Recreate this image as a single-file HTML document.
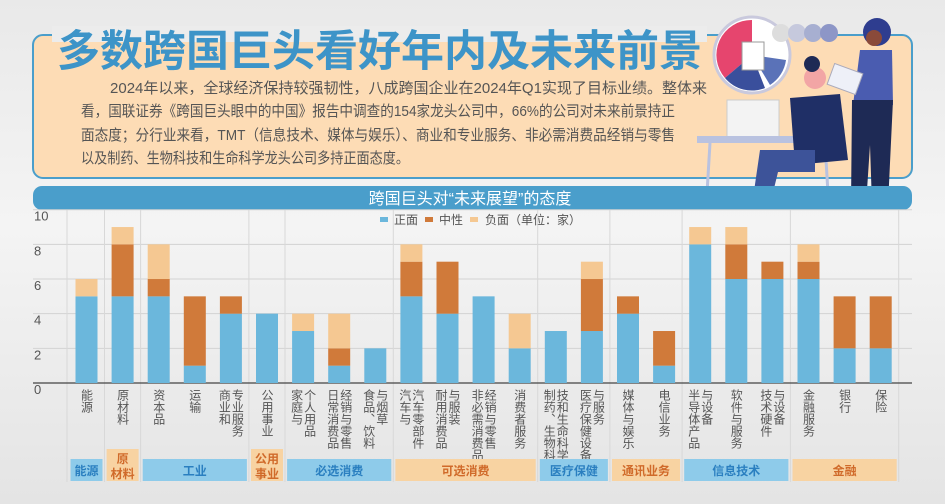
<!DOCTYPE html>
<html><head><meta charset="utf-8"><style>
html,body{margin:0;padding:0;width:945px;height:504px;overflow:hidden;background:#ececec;}
svg{display:block;font-family:"Liberation Sans","Noto Sans CJK SC",sans-serif;}
</style></head><body>
<svg id="chart" width="945" height="504" viewBox="0 0 945 504" xmlns="http://www.w3.org/2000/svg">
<defs>
<linearGradient id="bg" x1="0" y1="0" x2="0" y2="1"><stop offset="0" stop-color="#e9e9e9"/><stop offset="0.45" stop-color="#f4f4f4"/><stop offset="1" stop-color="#e4e4e4"/></linearGradient>
</defs>
<rect x="0" y="0" width="945" height="504" fill="url(#bg)"/>
<rect x="33" y="35" width="879" height="143" rx="10" fill="#fddcb5" stroke="#4a9ecb" stroke-width="2"/>
<rect x="52" y="26" width="655" height="16" fill="#ececec"/>
<g>
<circle cx="752" cy="55" r="38" fill="#fff" stroke="#c9c9dd" stroke-width="3"/>
<path d="M752 55 L752 20 A35 35 0 0 0 725 78 Z" fill="#e6456e"/>
<path d="M752 55 L725 78 A35 35 0 0 0 765 88 Z" fill="#3a4f9c"/>
<path d="M752 55 L770 85 A35 35 0 0 0 786 60 Z" fill="#5a72b8"/>
<rect x="742" y="42" width="22" height="28" fill="#fff" stroke="#999"/>
<circle cx="781" cy="33" r="9" fill="#ddd"/><circle cx="797" cy="33" r="9" fill="#c6c9dd"/><circle cx="813" cy="33" r="9" fill="#a7afd1"/><circle cx="829" cy="33" r="9" fill="#8d96c7"/>
<rect x="727" y="100" width="52" height="37" fill="#f3f3f3" stroke="#ccc"/>
<rect x="697" y="136" width="140" height="7" fill="#b9c2e0"/>
<line x1="710" y1="143" x2="706" y2="210" stroke="#b9c2e0" stroke-width="3"/>
<line x1="825" y1="143" x2="829" y2="210" stroke="#b9c2e0" stroke-width="3"/>
<circle cx="815" cy="78" r="11" fill="#f2a5a5"/>
<circle cx="812" cy="64" r="8" fill="#1e2a55"/>
<path d="M790 98 L840 94 L848 160 L795 165 Z" fill="#1f2f66"/>
<path d="M760 150 L815 150 L815 172 L778 172 L770 205 L752 205 Z" fill="#3d5399"/>
<circle cx="877" cy="32" r="14" fill="#2e3d8f"/>
<circle cx="874" cy="38" r="8" fill="#8a4a3a"/>
<path d="M860 50 L892 50 L893 105 L853 105 Z" fill="#4a5cb0"/>
<path d="M852 100 L893 100 L888 205 L872 205 L870 145 L866 205 L851 205 Z" fill="#1e2a55"/>
<rect x="830" y="68" width="30" height="22" fill="#eef0f8" stroke="#aab" transform="rotate(20 845 79)"/>
</g>
<text x="57" y="66" font-size="43" font-weight="bold" fill="#3d94c8">多数跨国巨头看好年内及未来前景</text>
<g font-size="15" fill="#555">
<text x="110" y="93" textLength="597" lengthAdjust="spacingAndGlyphs">2024年以来，全球经济保持较强韧性，八成跨国企业在2024年Q1实现了目标业绩。整体来</text>
<text x="81" y="116" textLength="594" lengthAdjust="spacingAndGlyphs">看，国联证券《跨国巨头眼中的中国》报告中调查的154家龙头公司中，66%的公司对未来前景持正</text>
<text x="81" y="140" textLength="594" lengthAdjust="spacingAndGlyphs">面态度；分行业来看，TMT（信息技术、媒体与娱乐）、商业和专业服务、非必需消费品经销与零售</text>
<text x="81" y="163" textLength="328" lengthAdjust="spacingAndGlyphs">以及制药、生物科技和生命科学龙头公司多持正面态度。</text>
</g>
<rect x="33" y="186" width="879" height="24" rx="9" fill="#4a9ecb"/>
<text x="470" y="204" font-size="16" fill="#fff" text-anchor="middle">跨国巨头对“未来展望”的态度</text>
<g font-size="12" fill="#555">
<rect x="380" y="217" width="8" height="5" fill="#6bb7dc"/>
<text x="394" y="224">正面</text>
<rect x="425" y="217" width="8" height="5" fill="#d07a3a"/>
<text x="439" y="224">中性</text>
<rect x="470" y="217" width="8" height="5" fill="#f5c892"/>
<text x="485" y="224">负面（单位：家）</text>
</g>
<g id="grid"></g>
<g id="bars"></g>
<g id="xlabels"></g>
<g id="groups"></g>
</svg>
<script>
const categories=["能源","原材料","资本品","运输","商业和|专业服务","公用事业","家庭与|个人用品","日常消费品|经销与零售","食品、饮料|与烟草","汽车与|汽车零部件","耐用消费品|与服装","非必需消费品|经销与零售","消费者服务","制药、生物科|技和生命科学","医疗保健设备|与服务","媒体与娱乐","电信业务","半导体产品|与设备","软件与服务","技术硬件|与设备","金融服务","银行","保险"];
const positive=[5,5,5,1,4,4,3,1,2,5,4,5,2,3,3,4,1,8,6,6,6,2,2];
const neutral=[0,3,1,4,1,0,0,1,0,2,3,0,0,0,3,1,2,0,2,1,1,3,3];
const negative=[1,1,2,0,0,0,1,2,0,1,0,0,2,0,1,0,0,1,1,0,1,0,0];
const yTicks=[0,2,4,6,8,10];
const groupNames=["能源","原材料","工业","公用事业","必选消费","可选消费","医疗保健","通讯业务","信息技术","金融"];
const groupStart=[0,1,2,5,6,9,13,15,17,20];
const groupEnd=[0,1,4,5,8,12,14,16,19,22];
const NS="http://www.w3.org/2000/svg";
const y0=383, unit=17.33, x0=86.5, step=36.1, bw=22;
const yS=v=>y0-v*unit;
const xS=i=>x0+i*step;
function mk(tag,attrs,parent){const e=document.createElementNS(NS,tag);for(const k in attrs)e.setAttribute(k,attrs[k]);parent.appendChild(e);return e;}
const grid=document.getElementById('grid'),bars=document.getElementById('bars'),xl=document.getElementById('xlabels'),gr=document.getElementById('groups');
yTicks.forEach(t=>{
  if(t>0){const l=mk('line',{x1:33,x2:912,y1:yS(t),y2:yS(t),stroke:'#d2d2d2','stroke-width':1},grid);
  
  }
  const tx=mk('text',{x:34,y:yS(t)+11,'font-size':13,fill:'#555'},grid);tx.textContent=t;
  
  
});
const seps=[67].concat(groupEnd.map(e=>xS(e)+18));
seps.forEach(x=>{const l=mk('line',{x1:x,x2:x,y1:210,y2:482,stroke:'#d8d8d8','stroke-width':1},grid);

});
const ax=mk('line',{x1:33,x2:912,y1:y0,y2:y0,stroke:'#444','stroke-width':1.2},grid);


categories.forEach((c,i)=>{
  const x=xS(i)-bw/2;let base=0;
  [[positive,'#6bb7dc','bar-positive'],[neutral,'#d07a3a','bar-neutral'],[negative,'#f5c892','bar-negative']].forEach(([arr,col,nm])=>{
    const v=arr[i];if(v>0){const r=mk('rect',{x:x,y:yS(base+v),width:bw,height:v*unit,fill:col},bars);
    
    }
    base+=v;});
  const cols=c.split('|');const n=cols.length;
  cols.forEach((s,j)=>{
    const t=mk('text',{x:xS(i)+(j-(n-1)/2)*13,y:389,'font-size':12,fill:'#555'},xl);
    t.setAttribute('style','writing-mode:vertical-lr;text-orientation:upright;');
    t.textContent=s;
    
    
  });
});
groupNames.forEach((g,k)=>{
  const blue=(k%2===0);
  const a=xS(groupStart[k])-bw/2-5,b=xS(groupEnd[k])+bw/2+5;
  const two=(g==="原材料"||g==="公用事业");
  const top=two?449:459;
  const r=mk('rect',{x:a,y:top,width:b-a,height:481-top,fill:blue?'#8ecbea':'#f8d3a2'},gr);
  
  
  const col=blue?'#2a7fc0':'#d06a2a';
  if(two){
    const p=g==="原材料"?["原","材料"]:["公用","事业"];
    p.forEach((s,j)=>{const t=mk('text',{x:(a+b)/2,y:463+j*15,'font-size':12,'font-weight':'bold',fill:col,'text-anchor':'middle'},gr);t.textContent=s;
    
    });
  }else{
    const t=mk('text',{x:(a+b)/2,y:475,'font-size':12,'font-weight':'bold',fill:col,'text-anchor':'middle'},gr);t.textContent=g;
    
    
  }
});
</script>
</body></html>
